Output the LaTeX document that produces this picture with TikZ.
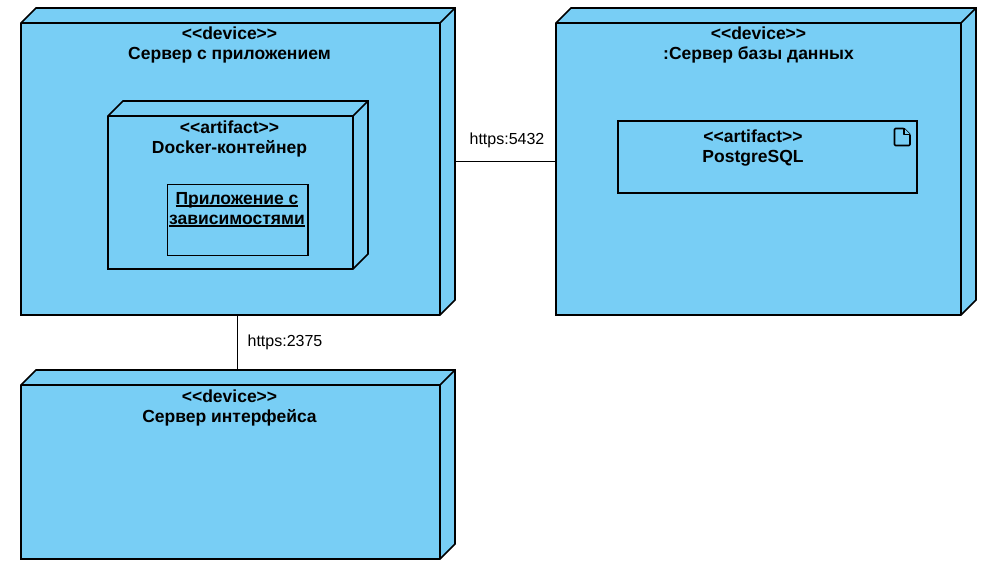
\documentclass[tikz,border=0pt]{standalone}
\usepackage{fontspec}
\setmainfont{Liberation Sans}
\usetikzlibrary{calc}
\definecolor{nodeblue}{RGB}{120,206,245}
\newcommand\stereo[1]{<\kern0pt<#1>\kern0pt>}
\newsavebox\ulbox
\newcommand\ulined[1]{\sbox\ulbox{#1}\rlap{\rule[-3pt]{\wd\ulbox}{1.8pt}}\usebox\ulbox}
\tikzset{
  outerbox/.style={inner sep=0pt,outer sep=0pt,rectangle},
  face/.style={draw=black,fill=nodeblue,line width=1.6pt,line join=miter},
  edge3d/.style={draw=black,line width=1.6pt},
  heading/.style={font=\fontsize{17.5}{20}\selectfont\bfseries,align=center,anchor=north,inner sep=0pt},
  linkline/.style={draw=black,line width=1.4pt},
  linktext/.style={font=\fontsize{16}{20}\selectfont,inner sep=0pt},
  plainbox/.style={draw=black,fill=nodeblue,rectangle,inner sep=0pt,outer sep=0pt},
  icon/.style={draw=black,line width=1.6pt,line join=round,fill=nodeblue}
}
% name, centre x, centre y, width, height (outer box incl. 15px depth)
\newcommand\cube[5]{%
  \node[outerbox,minimum width=#4pt,minimum height=#5pt] (#1) at (#2,#3) {};
  \draw[face] ($(#1.north west)+(15,0)$) -- (#1.north east) -- ($(#1.south east)+(0,-15)$)
    -- ($(#1.south east)+(-15,0)$) -- (#1.south west) -- ($(#1.north west)+(0,15)$) -- cycle;
  \draw[edge3d] ($(#1.north west)+(0,15)$) -- ($(#1.north east)+(-15,15)$) -- ($(#1.south east)+(-15,0)$);
  \draw[edge3d] ($(#1.north east)+(-15,15)$) -- (#1.north east);
}
\begin{document}
\begin{tikzpicture}[x=1pt,y=-1pt]
\useasboundingbox (0,0) rectangle (989,572);
\cube{appsrv}{238}{161.5}{434}{307}
\cube{dbsrv}{766}{161.5}{420}{307}
\cube{docker}{238}{185}{260}{168}
\cube{uisrv}{238}{464.5}{434}{189}
\draw[linkline] ([yshift=0.2pt]appsrv.east) -- ([yshift=0.2pt]dbsrv.west);
\draw[linkline] ([xshift=-0.6pt]appsrv.south) -- ([xshift=-0.6pt]uisrv.north);
\node[heading] (apptxt) at (229.5,27) {\stereo{device}\\Сервер с приложением};
\node[heading] (dbtxt) at (758.5,27) {\stereo{device}\\:Сервер базы данных};
\node[heading] (uitxt) at (229.5,390) {\stereo{device}\\Сервер интерфейса};
\node[heading] (dockertxt) at (229.5,121) {\stereo{artifact}\\Docker-контейнер};
\node[plainbox,line width=1.2pt,minimum width=140.6pt,minimum height=71.4pt] (appbox) at (237.6,220) {};
\node[heading] (apptext) at (237,192) {\ulined{Приложение с}\\\ulined{зависимостями}};
\node[plainbox,line width=1.6pt,minimum width=299pt,minimum height=72pt] (pgbox) at (767.5,157) {};
\node[heading] (pgtxt) at (753,130) {\stereo{artifact}\\PostgreSQL};
\draw[icon,rounded corners=1pt] (894.5,128.5) -- (904,128.5) -- (910,134.5) -- (910,145.5) -- (894.5,145.5) -- cycle;
\draw[icon] (904,128.5) -- (904,134.5) -- (910,134.5);
\node[linktext] (lbla) at (507,140) {https:5432};
\node[linktext] (lblb) at (285,342) {https:2375};
\end{tikzpicture}
\end{document}
